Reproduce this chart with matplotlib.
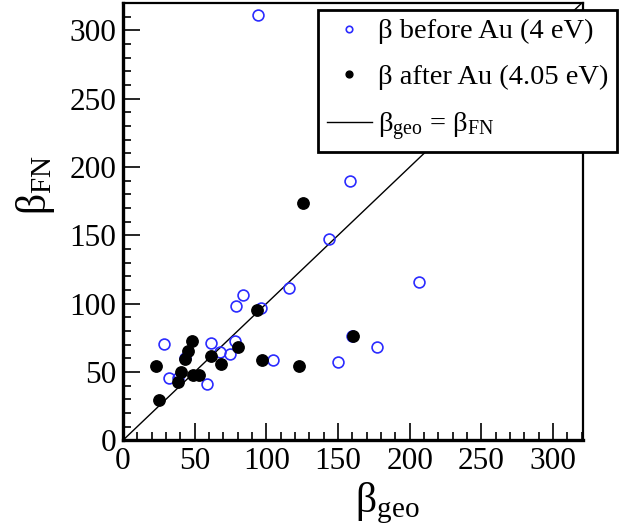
import numpy as np
import matplotlib
matplotlib.use("Agg")
import matplotlib.pyplot as plt
from matplotlib.ticker import MultipleLocator

plt.rcParams['font.family'] = ['Liberation Serif', 'DejaVu Serif']
plt.rcParams['mathtext.fontset'] = 'custom'
plt.rcParams['mathtext.rm'] = 'Liberation Serif'
plt.rcParams['mathtext.it'] = 'Liberation Serif:italic'

# beta before Au (open blue circles)
geo_before = [94, 158.7, 143.4, 206.7, 115.5, 83.5, 78.6, 96, 28.5, 61.2, 78,
              67.5, 74.5, 43.1, 105, 32, 38.3, 58.5, 160, 177.5, 150.3]
fn_before = [311.6, 189.5, 147, 115.6, 111.2, 106, 98, 96.6, 70.2, 71, 72.4,
             64.4, 62.9, 60, 58.5, 45.4, 45.4, 41, 76, 68, 57]

# beta after Au (filled black circles)
geo_after = [93.6, 48.5, 45.7, 80.2, 61.2, 43.1, 68.2, 23, 97.2, 122.7, 40.4,
             38.5, 49.2, 53.1, 25.3, 125.5, 160.3]
fn_after = [95.6, 72.4, 65.3, 68.3, 61.7, 59.8, 56, 54.4, 58.7, 54.1, 50,
            43, 47.5, 47.5, 29.3, 173.6, 76.3]

line_x = [0, 320]

fig = plt.figure(figsize=(6.21, 5.26), dpi=100)
ax = fig.add_axes([0.198, 0.163, 0.741, 0.831])

ax.plot(line_x, line_x, color='black', lw=1.0, label=r'β$_{\rm geo}$ = β$_{\rm FN}$', zorder=1)
ax.plot(geo_before, fn_before, 'o', mfc='none', mec='#2b2bff', mew=1.2, ms=7.8,
        label='β before Au (4 eV)', zorder=2)
ax.plot(geo_after, fn_after, 'o', color='black', ms=8.2, label='β after Au (4.05 eV)', zorder=3)

ax.set_xlim(0, 321)
ax.set_ylim(0, 320)
ax.xaxis.set_major_locator(MultipleLocator(50))
ax.xaxis.set_minor_locator(MultipleLocator(10))
ax.yaxis.set_major_locator(MultipleLocator(50))
ax.yaxis.set_minor_locator(MultipleLocator(10))
ax.tick_params(which='both', direction='in', top=False, right=False, labelsize=22.5, width=1.2)
ax.tick_params(which='major', length=12, pad=5)
ax.tick_params(which='minor', length=6)

ax.spines['left'].set_linewidth(2.4)
ax.spines['bottom'].set_linewidth(2.4)
ax.spines['top'].set_linewidth(1.6)
ax.spines['right'].set_linewidth(1.6)

ax.set_xlabel(r'β$_{\rm geo}$', fontsize=30)
ax.set_ylabel(r'β$_{\rm FN}$', fontsize=30)
ax.xaxis.set_label_coords(0.574, -0.145)
ax.xaxis.label.set_va('center')
ax.yaxis.set_label_coords(-0.19, 0.584)
ax.yaxis.label.set_va('center')

handles, labels = ax.get_legend_handles_labels()
order = [1, 2, 0]
leg = fig.legend([handles[i] for i in order], [labels[i] for i in order],
                 loc='upper left', bbox_to_anchor=(318 / 621, 1 - 10 / 526),
                 fontsize=20.5, frameon=True, fancybox=False, framealpha=1,
                 edgecolor='black', markerscale=0.6, handlelength=1.6,
                 handletextpad=0.2, labelspacing=0.7, borderpad=0.3,
                 borderaxespad=0)
leg.get_frame().set_linewidth(2.0)

fig.savefig('out.png', dpi=100)
